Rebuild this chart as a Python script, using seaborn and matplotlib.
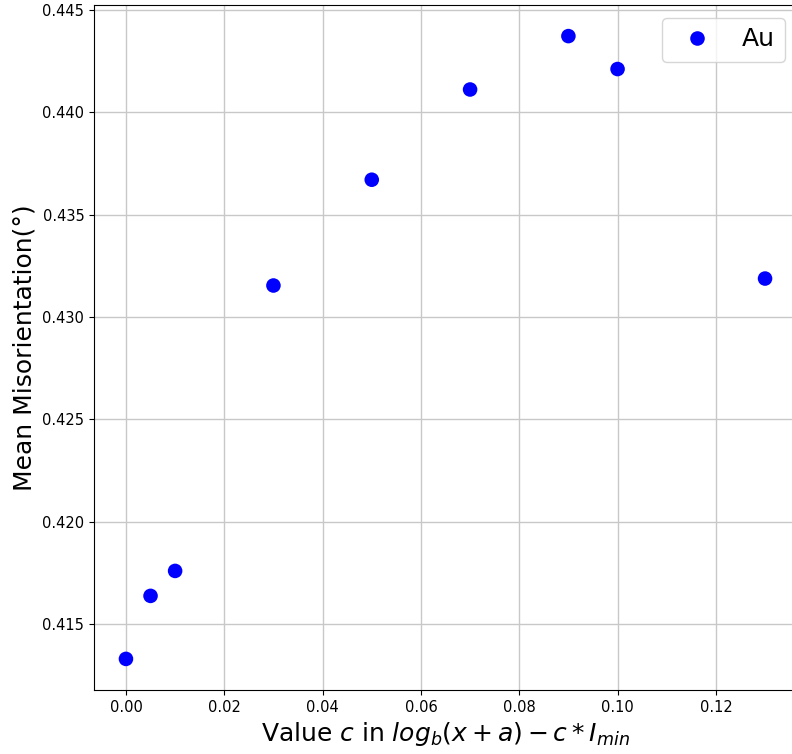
import matplotlib
matplotlib.use("Agg")
import matplotlib.pyplot as plt
import seaborn as sns
import pandas as pd

c_values = [0.000, 0.005, 0.010, 0.030, 0.050, 0.070, 0.090, 0.100, 0.130]
misorientation = [0.41329, 0.41637, 0.41759, 0.43154, 0.43671, 0.44112, 0.44373, 0.44212, 0.43188]
series_label = "Au"

df = pd.DataFrame({"c": c_values, "mis": misorientation, "series": series_label})

plt.rcParams['font.family'] = ['DejaVu Sans']
fig = plt.figure(figsize=(7.92, 7.54), dpi=100)
ax = fig.add_axes([94/792, 1 - 690/754, (797 - 94)/792, (690 - 5)/754])

sns.scatterplot(data=df, x="c", y="mis", hue="series", palette={series_label: "blue"},
                s=110, edgecolor="none", ax=ax, zorder=3)

ax.grid(True, color="#c8c8c8", linewidth=1.0)
ax.set_axisbelow(True)
ax.tick_params(labelsize=10.5)
ax.set_xlabel(r"Value $c$ in $log_b(x+a)-c*I_{min}$", fontsize=18)
ax.set_ylabel("Mean Misorientation(°)", fontsize=18)
ax.set_yticks([0.415, 0.420, 0.425, 0.430, 0.435, 0.440, 0.445])
ax.set_xticks([0.00, 0.02, 0.04, 0.06, 0.08, 0.10, 0.12])
ax.yaxis.set_major_formatter(matplotlib.ticker.FormatStrFormatter("%.3f"))
ax.xaxis.set_major_formatter(matplotlib.ticker.FormatStrFormatter("%.2f"))
ax.set_xlim(-0.0065, 0.1365)
ax.set_ylim(0.41177, 0.44525)
ax.legend(fontsize=18, loc="upper right", markerscale=1.0)

fig.savefig("out.png", dpi=100)
